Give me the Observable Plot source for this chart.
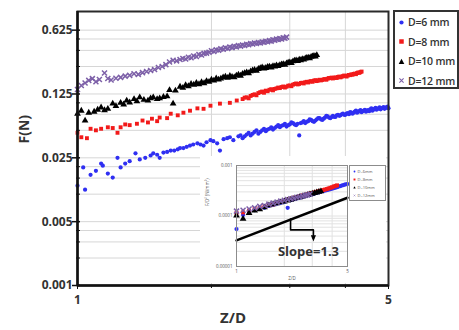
<!DOCTYPE html>
<html><head><meta charset="utf-8">
<script src="https://cdn.jsdelivr.net/npm/d3@7"></script>
<script src="https://cdn.jsdelivr.net/npm/@observablehq/plot@0.6"></script>
<style>
body{margin:0;background:#fff;font-family:"Open Sans",sans-serif;}
#wrap{position:relative;width:459px;height:330px;overflow:hidden;background:#fff;}
#main,#inset{position:absolute;}
#main{left:0;top:0;}
#inset{left:200px;top:156px;}
.leg{position:absolute;box-sizing:border-box;background:#fff;}
#legend{left:393px;top:10px;width:66px;height:79px;border:2px solid #333;}
#legend .row{position:absolute;left:3px;height:14px;display:flex;align-items:center;font-size:10.5px;font-weight:600;color:#333;white-space:nowrap;letter-spacing:-0.2px;}
#legend svg{margin-right:3px;}
#ilegend{left:349px;top:165px;width:37px;height:36px;border:1px solid #8c8c8c;}
#ilegend .row{position:absolute;left:3px;height:6px;display:flex;align-items:center;font-size:4px;color:#555;white-space:nowrap;}
#ilegend svg{margin-right:1.5px;}
</style></head>
<body><div id="wrap"><div id="main"></div><div id="inset"></div><div id="legend" class="leg"></div><div id="ilegend" class="leg"></div></div>
<script>
// ---------- main chart data ----------
const names = ["D=6 mm","D=8 mm","D=10 mm","D=12 mm"];
const inames = ["D=6mm","D=8mm","D=10mm","D=12mm"];
const colors = ["#2f2ff2","#f21a1a","#000000","#7d60a8"];
const symbols = ["circle","square","triangle","times"];

const x6 = [1.00,1.03,1.04,1.07,1.10,1.13,1.14,1.17,1.20,1.23,1.25,1.28,1.31,1.35,1.38,1.42,1.46,1.48,1.51,1.53,1.56,1.59,1.62,1.65,1.68,1.70,1.73,1.76,1.79,1.82,1.86,1.89,1.92,1.95,1.99,2.02,2.06,2.09,2.13,2.17,2.20,2.24,
 2.300,2.325,2.350,2.375,2.400,2.425,2.450,2.475,2.500,2.525,2.550,2.575,2.600,2.625,2.650,2.675,2.700,2.725,2.750,2.775,2.800,2.825,2.850,2.875,2.900,2.925,2.950,2.975,
 3.000,3.025,3.050,3.075,3.100,3.125,3.150,3.175,3.200,3.225,3.250,3.275,3.300,3.325,3.350,3.375,3.400,3.425,3.450,3.475,3.500,3.525,3.550,3.575,3.600,3.625,3.650,3.675,3.700,3.725,3.750,3.775,3.800,3.825,3.850,3.875,3.900,3.925,3.950,3.975,
 4.000,4.025,4.050,4.075,4.100,4.125,4.150,4.175,4.200,4.225,4.250,4.275,4.300,4.325,4.350,4.375,4.400,4.425,4.450,4.475,4.500,4.525,4.550,4.575,4.600,4.625,4.650,4.675,4.700,4.725,4.750,4.775,4.800,4.825,4.850,4.875,4.900,4.925,4.950,4.975,5.000];
const y6 = [0.0124,0.0196,0.0112,0.0163,0.0180,0.0216,0.0205,0.0168,0.0152,0.0250,0.0196,0.0216,0.0230,0.0280,0.0240,0.0250,0.0265,0.0280,0.0270,0.0250,0.0285,0.0290,0.0300,0.0300,0.0310,0.0320,0.0320,0.0330,0.0340,0.0350,0.0360,0.0350,0.0340,0.0370,0.0390,0.0380,0.0360,0.0300,0.0400,0.0410,0.0420,0.0390,
 0.043,0.044,0.041,0.043,0.045,0.047,0.044,0.046,0.048,0.050,0.046,0.048,0.050,0.052,0.049,0.051,0.052,0.054,0.051,0.053,0.055,0.057,0.054,0.056,0.057,0.059,0.055,0.057,
 0.058,0.061,0.060,0.058,0.057,0.059,0.044,0.060,0.061,0.063,0.060,0.062,0.063,0.066,0.065,0.063,0.062,0.064,0.066,0.068,0.068,0.066,0.065,0.067,0.069,0.072,0.071,0.069,0.068,0.070,0.072,0.070,0.070,0.073,0.074,0.072,0.073,0.075,0.076,0.074,
 0.074,0.076,0.077,0.075,0.079,0.078,0.076,0.078,0.080,0.082,0.078,0.080,0.081,0.083,0.079,0.081,0.082,0.084,0.080,0.082,0.083,0.081,0.085,0.087,0.082,0.084,0.086,0.088,0.084,0.086,0.087,0.089,0.085,0.087,0.088,0.090,0.086,0.088,0.089,0.091,0.087];

const x8 = [1.00,1.02,1.05,1.07,1.10,1.13,1.17,1.20,1.23,1.25,1.28,1.31,1.36,1.40,1.44,1.47,1.51,1.53,1.59,1.62,1.68,1.73,1.79,1.86,1.92,1.99,2.09,2.20,2.28,
 2.350,2.375,2.400,2.425,2.450,2.475,2.500,2.525,2.550,2.575,2.600,2.625,2.650,2.675,2.700,2.725,2.750,2.775,2.800,2.825,2.850,2.875,2.900,2.925,2.950,2.975,
 3.000,3.025,3.050,3.075,3.100,3.125,3.150,3.175,3.200,3.225,3.250,3.275,3.300,3.325,3.350,3.375,3.400,3.425,3.450,3.475,3.500,3.525,3.550,3.575,3.600,3.625,3.650,3.675,3.700,3.725,3.750,3.775,3.800,3.825,3.850,3.875,3.900,3.925,3.950,3.975,
 4.000,4.025,4.050,4.075,4.100,4.125,4.150,4.175,4.200,4.225,4.250,4.275,4.300,4.325,4.350];
const y8 = [0.047,0.042,0.041,0.052,0.050,0.052,0.054,0.053,0.047,0.054,0.058,0.057,0.059,0.064,0.061,0.067,0.063,0.069,0.068,0.076,0.073,0.078,0.082,0.087,0.086,0.093,0.098,0.100,0.106,
 0.110,0.114,0.115,0.112,0.119,0.122,0.124,0.121,0.128,0.131,0.133,0.129,0.136,0.134,0.139,0.141,0.137,0.142,0.144,0.147,0.145,0.149,0.151,0.147,0.150,0.154,
 0.155,0.152,0.158,0.161,0.163,0.159,0.161,0.165,0.166,0.163,0.168,0.170,0.167,0.171,0.173,0.170,0.175,0.177,0.173,0.176,0.179,0.176,0.178,0.181,0.182,0.179,0.184,0.187,0.186,0.189,0.185,0.188,0.190,0.187,0.192,0.194,0.190,0.193,0.196,0.199,
 0.197,0.194,0.199,0.202,0.201,0.205,0.203,0.207,0.209,0.206,0.212,0.215,0.213,0.217,0.220];

const x10 = [1.00,1.02,1.04,1.06,1.09,1.11,1.13,1.15,1.17,1.20,1.22,1.25,1.27,1.29,1.31,1.34,1.36,1.38,1.41,1.44,1.46,1.48,1.51,1.53,1.56,1.59,1.61,1.64,1.66,
 1.700,1.725,1.750,1.775,1.800,1.825,1.850,1.875,1.900,1.925,1.950,1.975,2.000,2.025,2.050,2.075,2.100,2.125,2.150,2.175,2.200,2.225,2.250,2.275,2.300,2.325,2.350,2.375,2.400,2.425,2.450,2.475,
 2.500,2.525,2.550,2.575,2.600,2.625,2.650,2.675,2.700,2.725,2.750,2.775,2.800,2.825,2.850,2.875,2.900,2.925,2.950,2.975,3.000,3.025,3.050,3.075,3.100,3.125,3.150,3.175,3.200,3.225,3.250,3.275,3.300,3.325,3.350,3.375,3.400,3.425,3.450];
const y10 = [0.076,0.082,0.064,0.078,0.080,0.084,0.089,0.083,0.086,0.098,0.092,0.100,0.096,0.106,0.101,0.110,0.104,0.115,0.108,0.106,0.112,0.115,0.110,0.112,0.116,0.118,0.138,0.098,0.136,
 0.150,0.146,0.156,0.152,0.161,0.158,0.165,0.160,0.168,0.164,0.173,0.170,0.179,0.175,0.185,0.180,0.184,0.190,0.193,0.188,0.197,0.192,0.190,0.199,0.203,0.198,0.208,0.212,0.216,0.211,0.221,0.226,
 0.229,0.224,0.235,0.240,0.244,0.238,0.241,0.247,0.249,0.244,0.253,0.250,0.257,0.253,0.259,0.263,0.266,0.261,0.271,0.276,0.278,0.273,0.284,0.289,0.292,0.287,0.297,0.293,0.301,0.297,0.306,0.310,0.313,0.308,0.319,0.323,0.327,0.322,0.333];

const x12 = [1.00,1.02,1.04,1.06,1.08,1.10,1.12,1.15,1.17,1.19,1.22,1.25,1.28,1.31,1.34,1.37,1.40,1.43,1.46,1.49,1.52,1.55,1.58,1.61,1.64,1.67,
 1.700,1.725,1.750,1.775,1.800,1.825,1.850,1.875,1.900,1.925,1.950,1.975,2.000,2.025,2.050,2.075,2.100,2.125,2.150,2.175,2.200,2.225,2.250,2.275,2.300,2.325,
 2.350,2.375,2.400,2.425,2.450,2.475,2.500,2.525,2.550,2.575,2.600,2.625,2.650,2.675,2.700,2.725,2.750,2.775,2.800,2.825,2.850,2.875,2.900,2.925,2.950];
const y12 = [0.140,0.155,0.165,0.176,0.184,0.170,0.180,0.212,0.185,0.178,0.186,0.190,0.196,0.200,0.208,0.205,0.214,0.220,0.226,0.232,0.244,0.250,0.262,0.280,0.292,0.288,
 0.298,0.306,0.302,0.316,0.312,0.326,0.322,0.338,0.334,0.348,0.350,0.358,0.372,0.364,0.380,0.376,0.390,0.386,0.400,0.394,0.408,0.402,0.416,0.410,0.424,0.418,
 0.430,0.424,0.438,0.432,0.446,0.440,0.452,0.446,0.458,0.452,0.464,0.460,0.472,0.466,0.480,0.474,0.490,0.484,0.498,0.494,0.506,0.500,0.516,0.510,0.524];

const yTicks = [0.001,0.005,0.025,0.125,0.625];
const yMinor = [0.002,0.003,0.004,0.01,0.015,0.02,0.05,0.075,0.1,0.25,0.375,0.5];
const xTicks = [1,5];
const xMinor = [2,3,4];

// ---------- inset data (F/D^2) ----------
const ix6 = [1.0,1.1,1.2,1.3,1.4,1.5,1.6,1.7,1.8,1.9,2.0,2.1,2.2,2.3,2.4,2.5,2.6,2.7,2.8,2.9,3.0,3.1,3.2,3.3,3.4,3.5,3.6,3.7,3.8,3.9,4.0,4.1,4.2,4.3,4.4,4.5,4.6,4.7,4.8,4.9,5.0];
const iy6 = [0.55e-4,1.05e-4,1.15e-4,1.30e-4,1.40e-4,1.45e-4,1.58e-4,1.65e-4,1.75e-4,1.82e-4,1.90e-4,1.45e-4,2.06e-4,2.15e-4,2.22e-4,2.30e-4,2.38e-4,2.46e-4,2.55e-4,2.62e-4,2.70e-4,2.78e-4,2.86e-4,2.95e-4,3.02e-4,3.10e-4,3.18e-4,3.25e-4,3.32e-4,3.40e-4,3.48e-4,3.56e-4,3.64e-4,3.72e-4,3.82e-4,3.92e-4,4.00e-4,4.10e-4,4.18e-4,4.25e-4,4.30e-4];
const ix8 = [1.0,1.1,1.2,1.3,1.4,1.5,1.6,1.7,1.8,1.9,2.0,2.1,2.2,2.3,2.4,2.5,2.6,2.7,2.8,2.9,3.0,3.1,3.2,3.3,3.4,3.5,3.6,3.7,3.8,3.9,4.0,4.1,4.2,4.3];
const iy8 = [1.15e-4,1.18e-4,1.28e-4,1.38e-4,1.46e-4,1.56e-4,1.64e-4,1.70e-4,1.80e-4,1.90e-4,2.00e-4,2.10e-4,2.20e-4,2.30e-4,2.38e-4,2.46e-4,2.55e-4,2.62e-4,2.70e-4,2.78e-4,2.86e-4,2.94e-4,3.02e-4,3.10e-4,3.18e-4,3.26e-4,3.34e-4,3.42e-4,3.52e-4,3.62e-4,3.72e-4,3.85e-4,3.95e-4,4.05e-4];
const ix10 = [1.0,1.1,1.2,1.3,1.4,1.5,1.6,1.7,1.8,1.9,2.0,2.1,2.2,2.3,2.4,2.5,2.6,2.7,2.8,2.9,3.0,3.1,3.2,3.3,3.4];
const iy10 = [1.02e-4,0.88e-4,1.15e-4,1.28e-4,1.36e-4,1.48e-4,1.62e-4,1.70e-4,1.78e-4,1.86e-4,1.94e-4,2.02e-4,2.10e-4,2.18e-4,2.27e-4,2.35e-4,2.44e-4,2.52e-4,2.60e-4,2.68e-4,2.76e-4,2.84e-4,2.92e-4,3.00e-4,3.08e-4];
const ix12 = [1.0,1.1,1.2,1.3,1.4,1.5,1.6,1.7,1.8,1.9,2.0,2.1,2.2,2.3,2.4,2.5,2.6,2.7,2.8,2.9];
const iy12 = [1.25e-4,1.30e-4,1.38e-4,1.45e-4,1.55e-4,1.62e-4,1.72e-4,1.80e-4,1.88e-4,1.97e-4,2.05e-4,2.12e-4,2.20e-4,2.26e-4,2.35e-4,2.40e-4,2.48e-4,2.56e-4,2.62e-4,2.72e-4];

const iyTicks = [1e-5,1e-4,1e-3];
const iyMinor = [2e-5,3e-5,4e-5,5e-5,6e-5,7e-5,8e-5,9e-5,2e-4,3e-4,4e-4,5e-4,6e-4,7e-4,8e-4,9e-4];
const slopeX = [1,5];
const slopeY = [3.3e-5,2.3e-4];
const arrowX = [2.19,2.19,3.05,3.05];
const arrowY = [8.7e-5,5.3e-5,5.3e-5,3.6e-5];
const slopeLabel = {x:2.84, y:1.92e-5, text:"Slope=1.3"};

// ---------- build ----------
const mainX = [x6,x8,x10,x12], mainY = [y6,y8,y10,y12];
const insX = [ix6,ix8,ix10,ix12], insY = [iy6,iy8,iy10,iy12];
const rowsOf = (xs, ys) => xs.map((x,i)=>({x, y:ys[i]}));

function seriesMarks(X, Y, scale){
  return X.map((xs,k)=>{
    const sym = symbols[k];
    const base = {x:"x", y:"y", symbol:()=>sym};
    if (sym === "times") return Plot.dot(rowsOf(xs,Y[k]), {...base, r:2.4*scale, stroke:colors[k], strokeWidth:1.5*scale, fill:"none"});
    const r = (sym==="triangle"?2.5:sym==="square"?2.2:2.1)*scale;
    return Plot.dot(rowsOf(xs,Y[k]), {...base, r, fill:colors[k], stroke:"none"});
  });
}

// filled arrowhead marker for the slope annotation
function filledArrow(color, context){
  const m = context.document.createElementNS("http://www.w3.org/2000/svg","marker");
  m.setAttribute("viewBox","-5 -5 10 10");
  m.setAttribute("markerWidth","4"); m.setAttribute("markerHeight","4");
  m.setAttribute("orient","auto"); m.setAttribute("markerUnits","strokeWidth");
  const p = context.document.createElementNS("http://www.w3.org/2000/svg","path");
  p.setAttribute("d","M-5,-4L5,0L-5,4Z"); p.setAttribute("fill",color); p.setAttribute("stroke","none");
  m.append(p); return m;
}

const labFmt = d => String(d);
const main = Plot.plot({
  width:459, height:330, marginLeft:77, marginRight:71, marginTop:11, marginBottom:45,
  x:{type:"log", domain:[1,5]},
  y:{type:"log", domain:[0.001,1]},
  symbol:{type:"identity"},
  style:{fontFamily:"'Open Sans', sans-serif", background:"#fff", overflow:"visible"},
  marks:[
    Plot.gridY(yMinor, {stroke:"#d6d6d6", strokeOpacity:1}),
    Plot.gridY(yTicks.slice(1), {stroke:"#d6d6d6", strokeOpacity:1}),
    Plot.gridX(xMinor, {stroke:"#d6d6d6", strokeOpacity:1}),
    ...seriesMarks(mainX, mainY, 1),
    Plot.frame({stroke:"#2a2a2a", strokeWidth:2}),
    Plot.ruleX([1], {stroke:"#111", strokeWidth:2.5}),
    Plot.ruleY([0.001], {stroke:"#111", strokeWidth:2.5}),
    Plot.text(yTicks, {y:d=>d, text:labFmt, frameAnchor:"left", textAnchor:"end", dx:-5, fontSize:12, fontWeight:700, fill:"#333"}),
    Plot.axisY(yTicks, {tickSize:8, dx:3, tickFormat:()=>"", label:null, strokeWidth:1.5, stroke:"#111"}),
    Plot.axisY(yMinor, {tickSize:4, dx:3, tickFormat:()=>"", label:null, stroke:"#111"}),
    Plot.text(xTicks, {x:d=>d, text:labFmt, frameAnchor:"bottom", dy:18, fontSize:12, fontWeight:700, fill:"#333"}),
    Plot.axisX(xTicks, {tickSize:4, tickFormat:()=>"", label:null, stroke:"#111"}),
    Plot.axisX(xMinor, {tickSize:3, tickFormat:()=>"", label:null, stroke:"#111"}),
    Plot.text(["Z/D"], {text:d=>d, frameAnchor:"bottom", dy:37, fontSize:15, fontWeight:700, fill:"#333"}),
    Plot.text(["F(N)"], {text:d=>d, frameAnchor:"left", dx:-53, dy:-5, rotate:-90, fontSize:14, fontWeight:700, fill:"#333"})
  ]
});
document.getElementById("main").append(main);

const inset = Plot.plot({
  width:186, height:127, marginLeft:36, marginRight:39, marginTop:9, marginBottom:17,
  x:{type:"log", domain:[1,5], axis:null},
  y:{type:"log", domain:[1e-5,1e-3], axis:null},
  symbol:{type:"identity"},
  style:{fontFamily:"'Open Sans', sans-serif", background:"#fff"},
  marks:[
    Plot.gridY(iyMinor, {stroke:"#e2e2e2", strokeOpacity:1}),
    Plot.gridY([1e-4], {stroke:"#e2e2e2", strokeOpacity:1}),
    Plot.gridX(xMinor, {stroke:"#e2e2e2", strokeOpacity:1}),
    ...seriesMarks(insX, insY, 1.0),
    Plot.line(slopeX.map((x,i)=>({x, y:slopeY[i]})), {x:"x", y:"y", stroke:"#000", strokeWidth:2.5}),
    Plot.line(arrowX.map((x,i)=>({x, y:arrowY[i]})), {x:"x", y:"y", stroke:"#000", strokeWidth:1.6, markerEnd:filledArrow}),
    Plot.text([slopeLabel], {x:"x", y:"y", text:"text", fontSize:13, fontWeight:700, fill:"#333"}),
    Plot.frame({stroke:"#8c8c8c", strokeWidth:1}),
    Plot.text(iyTicks, {y:d=>d, text:labFmt, frameAnchor:"left", textAnchor:"end", dx:-4, fontSize:4.5, fill:"#555"}),
    Plot.text(xTicks, {x:d=>d, text:labFmt, frameAnchor:"bottom", dy:6, fontSize:4.5, fill:"#555"}),
    Plot.text(["Z/D"], {text:d=>d, frameAnchor:"bottom", dy:13, fontSize:4.5, fill:"#555"}),
    Plot.text(["F/D² (N/mm²)"], {text:d=>d, frameAnchor:"left", dx:-29, dy:-10, rotate:-90, fontSize:4.5, fill:"#555"})
  ]
});
document.getElementById("inset").append(inset);

function markerSvg(k, s){
  const c = colors[k], h = s/2;
  let shape;
  if (symbols[k]==="circle") shape = `<circle cx="${h}" cy="${h}" r="${s*0.3}" fill="${c}"/>`;
  else if (symbols[k]==="square") shape = `<rect x="${s*0.18}" y="${s*0.18}" width="${s*0.64}" height="${s*0.64}" fill="${c}"/>`;
  else if (symbols[k]==="triangle") shape = `<path d="M${h},${s*0.12}L${s*0.9},${s*0.85}L${s*0.1},${s*0.85}Z" fill="${c}"/>`;
  else shape = `<path d="M${s*0.2},${s*0.2}L${s*0.8},${s*0.8}M${s*0.8},${s*0.2}L${s*0.2},${s*0.8}" stroke="${c}" stroke-width="${s*0.15}"/>`;
  return `<svg width="${s}" height="${s}" viewBox="0 0 ${s} ${s}">${shape}</svg>`;
}
const leg = document.getElementById("legend");
names.forEach((n,k)=>{
  const d = document.createElement("div"); d.className="row";
  d.style.top = (3 + k*19.5) + "px";
  d.innerHTML = markerSvg(k,7) + `<span>${n}</span>`;
  leg.append(d);
});
const ileg = document.getElementById("ilegend");
inames.forEach((n,k)=>{
  const d = document.createElement("div"); d.className="row";
  d.style.top = (2 + k*8.2) + "px";
  d.innerHTML = markerSvg(k,3) + `<span>${n}</span>`;
  ileg.append(d);
});
</script></body></html>
